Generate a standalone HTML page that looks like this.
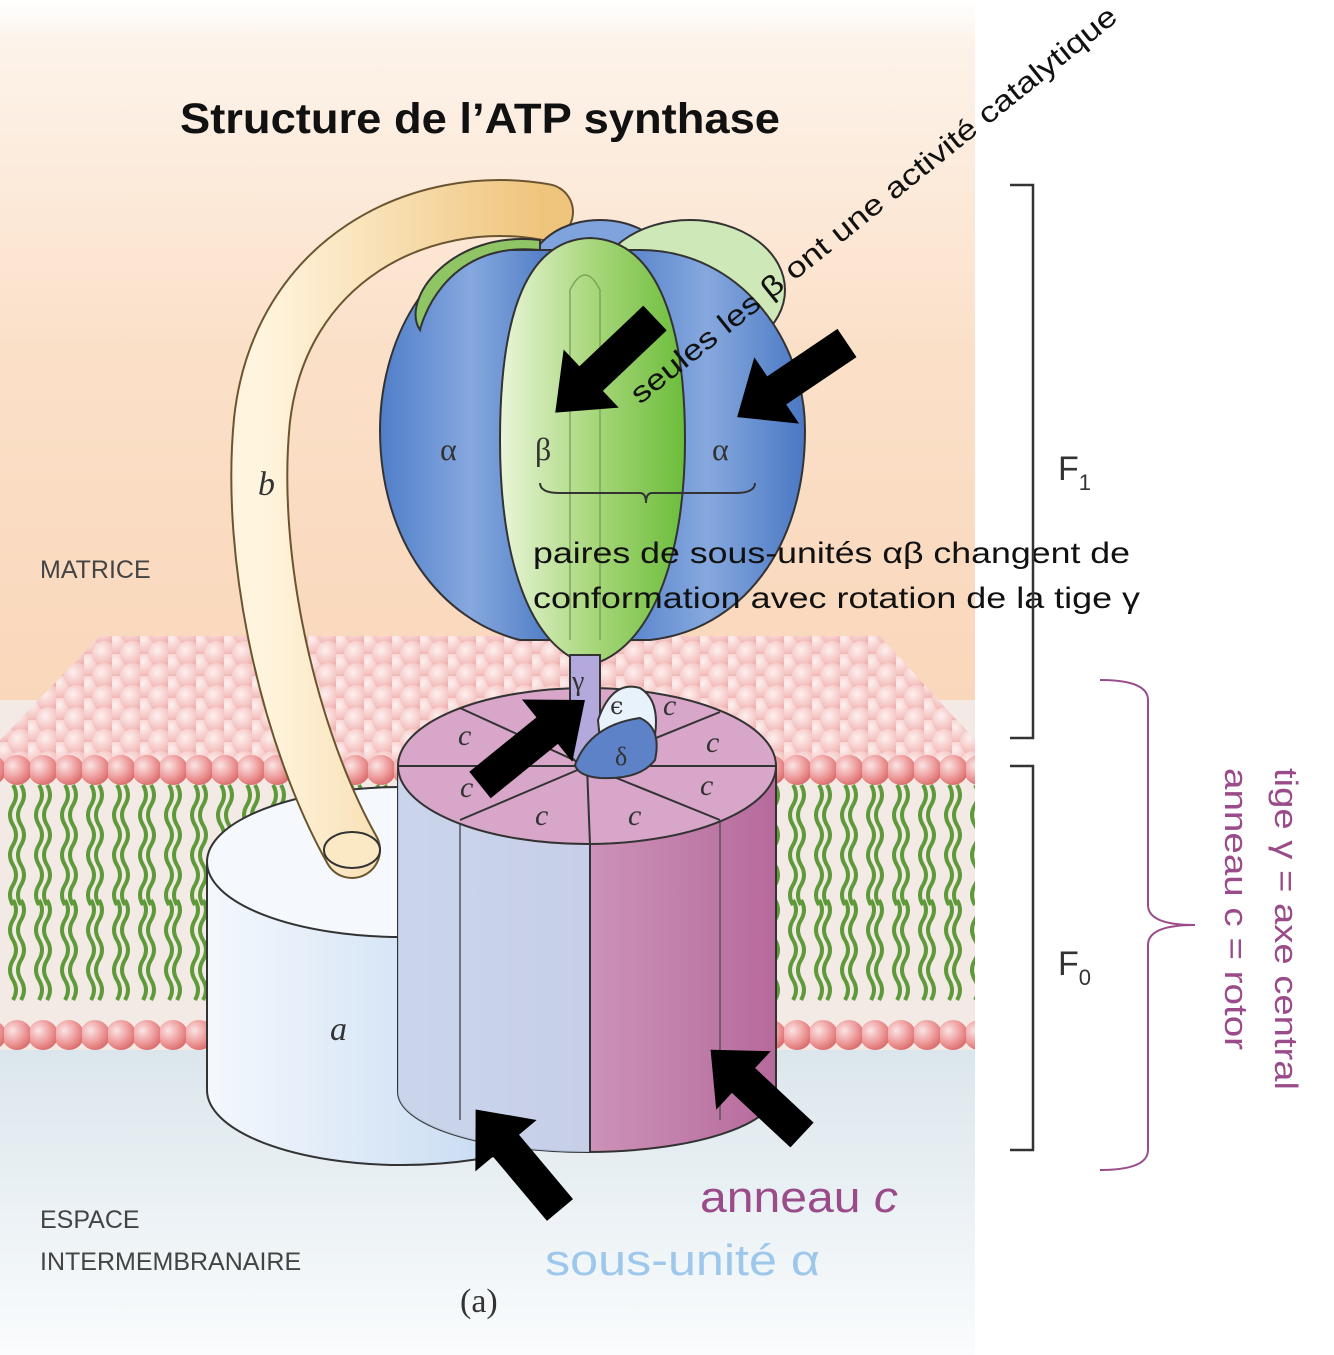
<!DOCTYPE html>
<html><head><meta charset="utf-8"><style>
html,body{margin:0;padding:0;background:#fff;}
svg{display:block;}
</style></head><body>
<svg width="1334" height="1355" viewBox="0 0 1334 1355" xmlns="http://www.w3.org/2000/svg" font-family="Liberation Sans, DejaVu Sans, sans-serif">
<defs>
<linearGradient id="bgtop" x1="0" y1="0" x2="0" y2="1">
<stop offset="0" stop-color="#fff"/><stop offset="0.06" stop-color="#fdf3ea"/><stop offset="0.5" stop-color="#fbe0c8"/><stop offset="1" stop-color="#f9d7bb"/></linearGradient>
<linearGradient id="bgbot" x1="0" y1="0" x2="0" y2="1">
<stop offset="0" stop-color="#dbe6ec"/><stop offset="1" stop-color="#fafcfd"/></linearGradient>
<radialGradient id="head" cx="0.35" cy="0.35" r="0.7"><stop offset="0" stop-color="#fbe4e4"/><stop offset="0.6" stop-color="#ee9a9a"/><stop offset="1" stop-color="#d96b6b"/></radialGradient>
<radialGradient id="headl" cx="0.35" cy="0.35" r="0.7"><stop offset="0" stop-color="#fdf0ef"/><stop offset="0.7" stop-color="#f4c2c0"/><stop offset="1" stop-color="#eaa8a6"/></radialGradient>
<pattern id="row" x="4" y="0" width="26" height="1355" patternUnits="userSpaceOnUse">
<circle cx="13" cy="770" r="15" fill="url(#head)"/>
<circle cx="13" cy="1035" r="15" fill="url(#head)"/>
<path d="M9 785 q6 10 0 20 q-6 10 0 20 q6 10 0 20 q-6 10 0 20 q6 10 0 20 q-6 10 0 20 M17 785 q6 10 0 20 q-6 10 0 20 q6 10 0 20 q-6 10 0 20 q6 10 0 20 q-6 10 0 20" stroke="#5f9a3a" stroke-width="4" fill="none"/>
<path d="M9 900 q6 10 0 20 q-6 10 0 20 q6 10 0 20 q-6 10 0 20 q6 10 0 20 M17 900 q6 10 0 20 q-6 10 0 20 q6 10 0 20 q-6 10 0 20 q6 10 0 20" stroke="#5f9a3a" stroke-width="4" fill="none"/>
</pattern>
<pattern id="pile" x="0" y="632" width="28" height="22" patternUnits="userSpaceOnUse">
<circle cx="7" cy="11" r="13" fill="url(#headl)"/>
<circle cx="21" cy="0" r="13" fill="url(#headl)"/>
<circle cx="21" cy="22" r="13" fill="url(#headl)"/>
</pattern>
<linearGradient id="blue" x1="0" y1="0" x2="1" y2="0"><stop offset="0" stop-color="#4f7ec9"/><stop offset="0.5" stop-color="#86a8de"/><stop offset="1" stop-color="#4a78c4"/></linearGradient>
<linearGradient id="green" x1="0" y1="0" x2="1" y2="0"><stop offset="0" stop-color="#e9f5d8"/><stop offset="0.5" stop-color="#a9d77c"/><stop offset="1" stop-color="#6cbd3c"/></linearGradient>
<linearGradient id="pink" x1="0" y1="0" x2="1" y2="0"><stop offset="0" stop-color="#e3bcd6"/><stop offset="1" stop-color="#b66a9c"/></linearGradient>
<linearGradient id="acyl" x1="0" y1="0" x2="1" y2="0"><stop offset="0" stop-color="#f4f8fd"/><stop offset="1" stop-color="#b9d2ee"/></linearGradient>
<linearGradient id="tan" x1="0" y1="0" x2="1" y2="0"><stop offset="0" stop-color="#fff5df"/><stop offset="1" stop-color="#efc47c"/></linearGradient>
<polygon id="arr" points="0,-17 80,-17 80,-40 125,0 80,40 80,17 0,17"/>
</defs>

<rect x="0" y="0" width="975" height="700" fill="url(#bgtop)"/>
<rect x="0" y="700" width="975" height="355" fill="#f3eae6"/>
<rect x="0" y="1050" width="975" height="305" fill="url(#bgbot)"/>

<polygon points="0,770 0,740 100,636 880,636 975,740 975,770" fill="url(#pile)"/>
<rect x="0" y="750" width="975" height="305" fill="url(#row)"/>

<!-- a cylinder -->
<path d="M207 862 L207 1090 A195 75 0 0 0 597 1090 L597 862 Z" fill="url(#acyl)" stroke="#333" stroke-width="2"/>
<ellipse cx="402" cy="862" rx="195" ry="75" fill="#f5f9fd" stroke="#333" stroke-width="2"/>
<text x="330" y="1040" font-family="Liberation Serif, serif" font-style="italic" font-size="34" fill="#333">a</text>

<!-- b stalk -->
<path d="M545 212 C 420 190, 280 260, 262 420 C 248 560, 290 740, 352 850" stroke="#6b5530" stroke-width="58" fill="none" stroke-linecap="round"/>
<path d="M545 212 C 420 190, 280 260, 262 420 C 248 560, 290 740, 352 850" stroke="url(#tan)" stroke-width="54" fill="none" stroke-linecap="round"/>
<ellipse cx="352" cy="850" rx="28" ry="18" fill="#fbe9c6" stroke="#333" stroke-width="2"/>
<text x="258" y="495" font-family="Liberation Serif, serif" font-style="italic" font-size="34" fill="#333">b</text>

<!-- c ring -->
<path d="M398 766 L398 1092 A189 60 0 0 0 776 1092 L776 766 Z" fill="url(#pink)" stroke="#333" stroke-width="2"/>
<path d="M398 766 L398 1092 A189 60 0 0 0 590 1152 L590 845 A189 78 0 0 1 398 766Z" fill="#c6d9f0" opacity="0.85"/>
<line x1="590" y1="845" x2="590" y2="1152" stroke="#333" stroke-width="2"/>
<line x1="460" y1="820" x2="460" y2="1120" stroke="#555" stroke-width="1.5"/>
<line x1="720" y1="820" x2="720" y2="1120" stroke="#555" stroke-width="1.5"/>
<ellipse cx="587" cy="766" rx="189" ry="78" fill="#d7a6c8" stroke="#333" stroke-width="2"/>
<g stroke="#333" stroke-width="2">
<line x1="587" y1="766" x2="398" y2="766"/><line x1="587" y1="766" x2="776" y2="766"/>
<line x1="587" y1="766" x2="460" y2="820"/><line x1="587" y1="766" x2="720" y2="820"/>
<line x1="587" y1="766" x2="590" y2="845"/><line x1="587" y1="766" x2="460" y2="708"/>
<line x1="587" y1="766" x2="720" y2="712"/>
</g>
<g font-family="Liberation Serif, serif" font-style="italic" font-size="30" fill="#333">
<text x="458" y="745">c</text><text x="460" y="797">c</text><text x="535" y="825">c</text><text x="628" y="825">c</text>
<text x="700" y="795">c</text><text x="706" y="752">c</text><text x="663" y="715">c</text></g>

<!-- F1 head -->
<ellipse cx="600" cy="270" rx="70" ry="50" fill="#7fa3dc" stroke="#333" stroke-width="2"/>
<ellipse cx="690" cy="290" rx="95" ry="70" fill="#cfe8b8" stroke="#333" stroke-width="2"/>
<path d="M500 250 C 430 250, 380 340, 380 430 C 380 540, 440 620, 520 640 L 560 640 C 520 560, 500 420, 560 250 Z" fill="url(#blue)" stroke="#333" stroke-width="2"/>
<path d="M540 250 C 440 240, 420 330, 420 330 C 400 300, 450 230, 540 240Z" fill="#8fc564" stroke="#333" stroke-width="2"/>
<path d="M640 250 C 740 250, 805 340, 805 430 C 805 550, 740 630, 650 640 L 610 640 C 660 540, 680 400, 630 250 Z" fill="url(#blue)" stroke="#333" stroke-width="2"/>
<path d="M590 238 C 520 240, 500 330, 500 440 C 500 560, 530 650, 590 665 C 650 650, 685 560, 685 440 C 685 330, 660 240, 590 238 Z" fill="url(#green)" stroke="#333" stroke-width="2"/>
<path d="M570 640 L570 290 Q585 260 600 290 L600 640" stroke="#7aa65a" stroke-width="1.5" fill="none"/>
<g font-family="Liberation Serif, DejaVu Serif, serif" font-size="32" fill="#333">
<text x="440" y="460">α</text><text x="535" y="460">β</text><text x="712" y="460">α</text></g>

<!-- gamma epsilon delta -->
<path d="M570 655 L570 755 Q585 775 600 755 L600 655 Z" fill="#b3a9dc" stroke="#333" stroke-width="2"/>
<text x="572" y="690" font-family="Liberation Serif, DejaVu Serif, serif" font-size="28" fill="#333">γ</text>
<path d="M598 720 Q612 680 640 688 Q660 700 655 735 L600 740 Z" fill="#e8f2fb" stroke="#333" stroke-width="2"/>
<text x="610" y="714" font-family="DejaVu Serif, serif" font-size="24" fill="#333">ϵ</text>
<path d="M575 765 Q590 725 640 718 Q662 728 655 760 Q640 780 600 778 Q578 776 575 765 Z" fill="#5d82c8" stroke="#333" stroke-width="2"/>
<text x="615" y="765" font-family="Liberation Serif, DejaVu Serif, serif" font-size="26" fill="#333">δ</text>

<!-- arrows -->
<g fill="#000">
<use href="#arr" transform="translate(655,318) rotate(136.5) scale(1.1,1)"/>
<use href="#arr" transform="translate(847,343) rotate(146) scale(1.06,1)"/>
<use href="#arr" transform="translate(480,785) rotate(-39) scale(1.08,1)"/>
<use href="#arr" transform="translate(560,1210) rotate(-130) scale(1.05,1)"/>
<use href="#arr" transform="translate(802,1135) rotate(-137) scale(1,1)"/>
</g>

<path d="M540 483 Q540 493 560 493 L640 493 Q646 493 646 503 Q646 493 652 493 L735 493 Q755 493 755 483" stroke="#333" stroke-width="2" fill="none"/>

<!-- texts -->
<text x="180" y="133" font-size="43" font-weight="bold" fill="#111" textLength="600" lengthAdjust="spacingAndGlyphs">Structure de l’ATP synthase</text>
<text transform="translate(640,405) rotate(-38.8)" font-size="29" fill="#111" textLength="615" lengthAdjust="spacingAndGlyphs">seules les β ont une activité catalytique</text>
<text x="533" y="563" font-size="30" fill="#111" textLength="597" lengthAdjust="spacingAndGlyphs">paires de sous-unités αβ  changent de</text>
<text x="533" y="608" font-size="30" fill="#111" textLength="607" lengthAdjust="spacingAndGlyphs">conformation avec rotation de la tige γ</text>
<text x="40" y="578" font-size="25" fill="#444">MATRICE</text>
<text x="40" y="1228" font-size="25" fill="#444">ESPACE</text>
<text x="40" y="1270" font-size="25" fill="#444">INTERMEMBRANAIRE</text>
<text x="460" y="1312" font-family="Liberation Serif, serif" font-size="34" fill="#333">(a)</text>
<text x="700" y="1212" font-size="44" fill="#9a4c8a" textLength="198" lengthAdjust="spacingAndGlyphs">anneau <tspan font-style="italic">c</tspan></text>
<text x="545" y="1275" font-size="44" fill="#9ec7ec" textLength="275" lengthAdjust="spacingAndGlyphs">sous-unité α</text>
<text x="1058" y="480" font-size="34" fill="#333">F<tspan font-size="22" dy="10">1</tspan></text>
<text x="1058" y="975" font-size="34" fill="#333">F<tspan font-size="22" dy="10">0</tspan></text>

<path d="M1010 185 L1033 185 L1033 738 L1010 738 M1010 766 L1033 766 L1033 1150 L1010 1150" stroke="#333" stroke-width="2.5" fill="none"/>
<path d="M1100 680 Q1148 680 1148 700 L1148 905 Q1148 925 1195 925 Q1148 925 1148 945 L1148 1150 Q1148 1170 1100 1170" stroke="#9a4c8a" stroke-width="2" fill="none"/>
<text transform="translate(1275,768) rotate(90)" font-size="32" fill="#9a4c8a" textLength="322" lengthAdjust="spacingAndGlyphs">tige γ = axe central</text>
<text transform="translate(1225,768) rotate(90)" font-size="32" fill="#9a4c8a" textLength="282" lengthAdjust="spacingAndGlyphs">anneau c = rotor</text>
</svg>
</body></html>
